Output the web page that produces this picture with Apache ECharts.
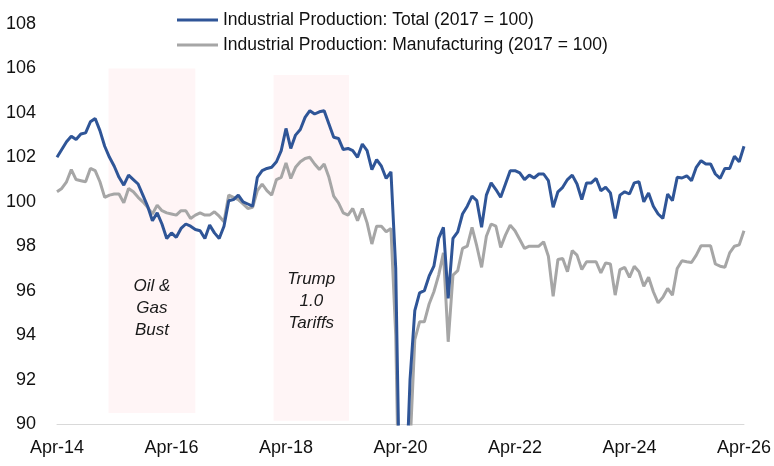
<!DOCTYPE html>
<html>
<head>
<meta charset="utf-8">
<script src="https://cdn.jsdelivr.net/npm/echarts@6/dist/echarts.min.js"></script>
<style>
  html, body { margin: 0; padding: 0; background: #fff; }
  #chart { width: 774px; height: 466px; }
</style>
</head>
<body>
<div id="chart"></div>
<script>
// monthly index 0 = Apr-14 ... 144 = Apr-26
const TICK_LABELS = ['Apr-14', 'Apr-16', 'Apr-18', 'Apr-20', 'Apr-22', 'Apr-24', 'Apr-26']

const SERIES_NAMES = [
  'Industrial Production: Total (2017 = 100)',
  'Industrial Production: Manufacturing (2017 = 100)',
]

const total = [
  102.0, 102.35, 102.7, 102.95, 102.8, 103.05, 103.1, 103.6, 103.75, 103.2,
  102.5, 102.0, 101.6, 101.1, 100.75, 101.2, 101.0, 100.8, 100.3, 99.8,
  99.15, 99.5, 99.0, 98.35, 98.6, 98.4, 98.8, 99.0, 98.9, 98.75,
  98.7, 98.35, 98.95, 98.6, 98.35, 98.9, 100.05, 100.1, 100.3, 100.0,
  99.9, 99.8, 101.1, 101.4, 101.5, 101.55, 101.8, 102.3, 103.3, 102.4,
  103.0, 103.25, 103.8, 104.1, 103.95, 104.05, 104.1, 103.5, 102.9, 102.85,
  102.35, 102.4, 102.3, 102.0, 102.6, 102.3, 101.45, 101.9, 101.6, 101.05,
  101.35, 97.0, 84.5, 86.2, 92.0, 95.1, 95.9, 96.0, 96.65, 97.1,
  98.35, 98.85, 95.65, 98.35, 98.65, 99.45, 99.8, 100.25, 100.05, 98.85,
  100.3, 100.85, 100.55, 100.2, 100.8, 101.4, 101.4, 101.3, 101.0, 101.2,
  101.07, 101.25, 101.25, 100.95, 99.75, 100.45, 100.65, 101.0, 101.2, 100.8,
  100.1, 100.85, 100.85, 101.05, 100.5, 100.65, 100.4, 99.25, 100.3, 100.45,
  100.35, 100.85, 100.9, 100.0, 100.4, 99.8, 99.45, 99.25, 100.35, 100.05,
  101.1, 101.07, 101.17, 100.95, 101.55, 101.85, 101.7, 101.7, 101.25, 101.05,
  101.5, 101.5, 102.05, 101.8, 102.5,
]

const manufacturing = [
  100.45, 100.6, 100.9, 101.45, 101.0, 100.95, 100.9, 101.5, 101.4, 100.9,
  100.2, 100.3, 100.35, 100.35, 99.95, 100.6, 100.45, 100.2, 100.0, 99.75,
  99.45, 99.85, 99.6, 99.5, 99.45, 99.4, 99.6, 99.6, 99.25, 99.4,
  99.5, 99.4, 99.4, 99.55, 99.35, 99.1, 100.3, 100.2, 100.1, 99.9,
  99.7, 99.75, 100.5, 100.8, 100.5, 100.3, 101.0, 101.1, 101.75, 101.05,
  101.55, 101.8, 101.95, 102.0, 101.7, 101.45, 101.7, 101.1, 100.25, 99.95,
  99.5, 99.4, 99.7, 99.15, 99.7, 99.05, 98.1, 98.9, 98.9, 98.65,
  98.8, 94.0, 82.5, 84.5, 89.0, 93.8, 94.6, 94.6, 95.4, 95.95,
  96.7, 97.7, 93.7, 96.7, 96.9, 97.9, 98.0, 98.85, 98.0, 97.05,
  98.45, 99.0, 98.9, 97.95, 98.5, 98.95, 98.7, 98.3, 97.9, 98.0,
  98.0, 98.0, 98.2, 97.55, 95.75, 97.4, 97.45, 96.85, 97.8, 97.6,
  96.95, 97.3, 97.3, 97.3, 96.8, 97.25, 97.2, 95.8, 96.95, 97.05,
  96.6, 97.1, 96.85, 96.2, 96.6, 95.95, 95.45, 95.7, 96.1, 95.8,
  97.0, 97.35, 97.3, 97.27, 97.6, 98.02, 98.02, 98.02, 97.2, 97.1,
  97.05, 97.7, 98.0, 98.06, 98.7,
]

// shaded episodes, in month index / value units
const episodes = [
  { label: 'Oil &\nGas\nBust', from: 10.8, to: 29.0, top: 106.0, bottom: 90.5, offsetY: 68 },
  { label: 'Trump\n1.0\nTariffs', from: 45.4, to: 61.2, top: 105.7, bottom: 90.15, offsetY: 53 },
]

const chart = echarts.init(document.getElementById('chart'))
chart.setOption({
  animation: false,
  textStyle: { fontFamily: 'Liberation Sans, Arial, sans-serif' },
  grid: { left: 57, right: 26, top: 24, bottom: 42 },
  legend: {
    orient: 'vertical',
    left: 172,
    top: 6,
    itemGap: 7,
    itemWidth: 41,
    itemHeight: 3,
    icon: 'rect',
    textStyle: { fontSize: 17.5, color: '#111' },
    data: SERIES_NAMES,
  },
  xAxis: {
    type: 'value',
    min: 0,
    max: 144,
    interval: 24,
    axisLine: { lineStyle: { color: '#d9d9d9', width: 1 } },
    axisTick: { show: false },
    splitLine: { show: false },
    axisLabel: {
      fontSize: 18,
      color: '#111',
      margin: 15,
      formatter: v => TICK_LABELS[v / 24],
    },
  },
  yAxis: {
    type: 'value',
    min: 90,
    max: 108,
    interval: 2,
    axisLine: { show: false },
    axisTick: { show: false },
    splitLine: { show: false },
    axisLabel: { fontSize: 18, color: '#111', margin: 21 },
  },
  series: [
    {
      name: SERIES_NAMES[0],
      type: 'line',
      z: 3,
      showSymbol: false,
      data: total.map((v, i) => [i, v]),
      itemStyle: { color: '#2f5597' },
      lineStyle: { color: '#2f5597', width: 3 },
    },
    {
      name: SERIES_NAMES[1],
      type: 'line',
      z: 2,
      showSymbol: false,
      data: manufacturing.map((v, i) => [i, v]),
      itemStyle: { color: '#a6a6a6' },
      lineStyle: { color: '#a6a6a6', width: 3 },
      markArea: {
        silent: true,
        itemStyle: { color: '#fff5f6' },
        label: {
          position: 'inside',
          fontSize: 17,
          fontStyle: 'italic',
          lineHeight: 22,
          color: '#1a1a1a',
        },
        data: episodes.map(e => [
          { coord: [e.from, e.top], name: e.label, label: { offset: [0, e.offsetY] } },
          { coord: [e.to, e.bottom] },
        ]),
      },
    },
  ],
})
</script>
</body>
</html>
